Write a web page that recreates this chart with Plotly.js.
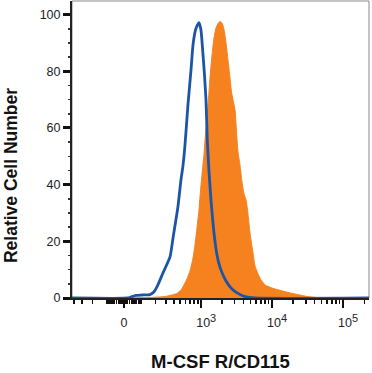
<!DOCTYPE html>
<html><head><meta charset="utf-8">
<script src="https://cdn.plot.ly/plotly-3.0.1.min.js"></script>
<style>html,body{margin:0;padding:0;background:#fff}</style>
</head><body>
<div id="chart" style="width:372px;height:373px"></div>
<script>
// Fluorescence intensity (M-CSF R/CD115) and relative cell number
const stainedX = [-430, 32, 157, 292, 374, 447, 513, 568, 628, 694, 768, 819, 876, 936, 967, 1033, 1101, 1157, 1217, 1277, 1343, 1434, 1530, 1633, 1770, 1888, 2015, 2151, 2262, 2413, 2575, 2704, 2840, 3031, 3201, 3338, 3563, 3802, 4059, 4329, 4546, 4928, 5432, 5796, 6392, 7038, 8015, 10383, 18017, 24956, 31315, 47693, 77666, 233000];
const stainedY = [0, 0, 0.18, 0.53, 1.06, 1.6, 2.8, 4.6, 6.7, 9.5, 14.1, 18.7, 24.7, 31.1, 35.7, 43.5, 50.5, 57.5, 63.5, 69.9, 77.7, 85.8, 91.8, 95.3, 97.1, 97.6, 96.7, 93.9, 90.0, 84.0, 77.7, 72.7, 69.9, 66.4, 57.5, 51.5, 46.9, 40.9, 36.7, 34.6, 31.1, 22.9, 15.9, 11.3, 8.5, 6.4, 4.6, 3.4, 1.8, 1.06, 0.53, 0.1, 0, 0];

const isotypeX = [-430, 21.5, 38, 66, 102, 157, 187, 213, 270, 350, 394, 462, 513, 549, 588, 649, 719, 768, 835, 891, 936, 999, 1056, 1121, 1177, 1229, 1300, 1386, 1530, 1686, 1858, 2118, 2413, 2749, 3235, 4190, 5796, 233000];
const isotypeY = [0, 0, 0.35, 0.9, 1.06, 1.2, 2.1, 3.9, 8.8, 14.5, 21.9, 32.1, 41.7, 46.6, 54.0, 68.1, 80.5, 89.3, 94.6, 96.4, 97.2, 94.6, 87.5, 78.7, 69.9, 55.8, 44.5, 34.6, 22.9, 15.2, 10.9, 7.4, 4.9, 3.2, 1.8, 0.5, 0, 0];

const xMajorTicks = [0, 1000, 10000, 100000];
const xTickBase = ['0', '10', '10', '10'];
const xTickExp = ['', '3', '4', '5'];
const xMinorTicks = [-400, -300, -200, -100, -90, -80, -70, -60, -50, -40, -30, -20, -10,
  10, 20, 30, 40, 50, 60, 70, 80, 90, 100, 200, 300, 400, 500, 600, 700, 800, 900,
  2000, 3000, 4000, 5000, 6000, 7000, 8000, 9000,
  20000, 30000, 40000, 50000, 60000, 70000, 80000, 90000, 200000];
const yMajorTicks = [0, 20, 40, 60, 80, 100];

// biexponential-style display transform (linear near zero, log for large values)
const W = 82.8;
function T(v) { return Math.asinh(v / (2 * W)) / Math.LN10 + Math.log10(W); }

const FONT = 'Liberation Sans, Arial, Helvetica, sans-serif';
const PAD = '\u00a0\u00a0\u00a0';
const xTickText = xTickBase.map((b, i) => xTickExp[i]
  ? PAD + b + '<sup><span style="font-size:11px">' + xTickExp[i] + '</span></sup>'
  : b);

const traces = [
  {
    x: stainedX.map(T), y: stainedY, type: 'scatter', mode: 'lines',
    fill: 'tozeroy', fillcolor: '#f5821f',
    line: {color: '#f5821f', width: 1, shape: 'spline', smoothing: 0.5},
    hoverinfo: 'skip'
  },
  {
    x: isotypeX.map(T), y: isotypeY, type: 'scatter', mode: 'lines',
    line: {color: '#1d55a6', width: 2.8, shape: 'spline', smoothing: 0.5},
    hoverinfo: 'skip'
  }
];

const layout = {
  width: 372, height: 373,
  margin: {l: 72, r: 3, t: 1, b: 75},
  paper_bgcolor: '#fff', plot_bgcolor: '#fff',
  showlegend: false,
  xaxis: {
    range: [T(-430), T(233000)],
    tickmode: 'array', tickvals: xMajorTicks.map(T), ticktext: xTickText,
    ticks: 'outside', ticklen: 8, tickwidth: 2.5, tickcolor: '#111',
    ticklabelstandoff: 4,
    showline: true, linecolor: '#222', linewidth: 2,
    showgrid: false, zeroline: false,
    tickfont: {family: FONT, size: 12.5, color: '#222'},
    minor: {tickmode: 'array', tickvals: xMinorTicks.map(T), ticks: 'outside', ticklen: 4, tickwidth: 1.5, tickcolor: '#111', showgrid: false},
    title: {text: '<b>M-CSF R/CD115</b>', font: {family: FONT, size: 18.5, color: '#111'}, standoff: 26},
    fixedrange: true
  },
  yaxis: {
    range: [0, 104.8],
    tickmode: 'array', tickvals: yMajorTicks,
    ticks: 'outside', ticklen: 7, tickwidth: 3, tickcolor: '#111',
    showline: true, linecolor: '#222', linewidth: 2,
    showgrid: false, zeroline: false,
    tickfont: {family: FONT, size: 12.5, color: '#222'},
    minor: {dtick: 5, ticks: 'outside', ticklen: 2, tickwidth: 1.5, tickcolor: '#333', showgrid: false},
    fixedrange: true
  },
  annotations: [
    {text: '<b>Relative Cell Number</b>', xref: 'paper', yref: 'paper',
     x: -0.2054, y: 0.414, xanchor: 'center', yanchor: 'middle', textangle: -90,
     showarrow: false, font: {family: FONT, size: 17.5, color: '#111'}}
  ],
  shapes: [
    {type: 'rect', xref: 'paper', yref: 'paper', x0: 0, x1: 1, y0: 0, y1: 1, line: {color: '#888', width: 1}, layer: 'below'}
  ]
};

Plotly.newPlot('chart', traces, layout, {displayModeBar: false, staticPlot: true});
</script>
</body></html>
